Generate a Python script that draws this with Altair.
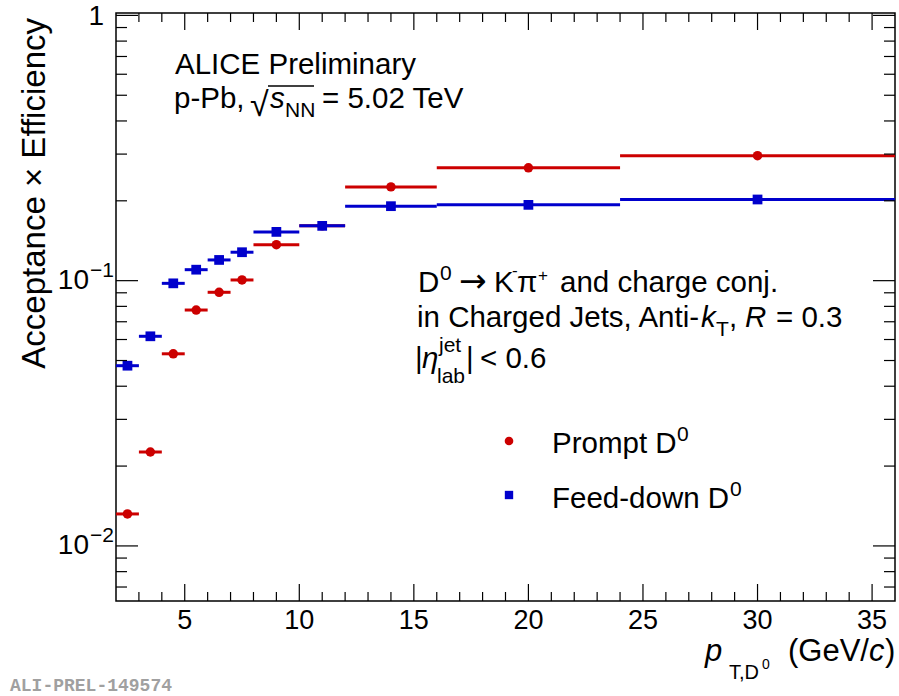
import altair as alt
import pandas as pd

# ---------------- data ----------------
bin_lo = [2, 3, 4, 5, 6, 7, 8, 10, 12, 16, 24]
bin_hi = [3, 4, 5, 6, 7, 8, 10, 12, 16, 24, 36]
pt_center = [2.5, 3.5, 4.5, 5.5, 6.5, 7.5, 9, 11, 14, 20, 30]
prompt_eff = [0.0132, 0.0226, 0.0530, 0.0775, 0.0904, 0.1006, 0.1367, 0.1610, 0.2257, 0.2663, 0.2960]
feeddown_eff = [0.0478, 0.0617, 0.0977, 0.1100, 0.1197, 0.1280, 0.1527, 0.1609, 0.1909, 0.1931, 0.2023]

x_major_ticks = [5, 10, 15, 20, 25, 30, 35]
x_tick_labels = ["5", "10", "15", "20", "25", "30", "35"]
x_minor_ticks = [3, 4, 6, 7, 8, 9, 11, 12, 13, 14, 16, 17, 18, 19, 21, 22, 23, 24,
                 26, 27, 28, 29, 31, 32, 33, 34]
y_major_ticks = [0.01, 0.1, 1]
y_minor_ticks = [0.007, 0.008, 0.009,
                 0.02, 0.03, 0.04, 0.05, 0.06, 0.07, 0.08, 0.09,
                 0.2, 0.3, 0.4, 0.5, 0.6, 0.7, 0.8, 0.9]
y_dec_vals = [0.01, 0.1]
y_dec_base = ["10", "10"]
y_dec_exp = ["\u22122", "\u22121"]
y_unit_val = [1]
y_unit_label = ["1"]

# ---------------- layout ----------------
W, H = 779, 588
OX, OY = 116, 13
FONT = "Liberation Sans"
RED = "#cc0000"
BLUE = "#0000cc"
TXT = 29.5
SUB = 21

xs = alt.Scale(domain=[2, 36], nice=False, zero=False)
ys = alt.Scale(type="log", domain=[0.0062, 1.021], nice=False)

prompt_df = pd.DataFrame({"lo": bin_lo, "hi": bin_hi, "x": pt_center, "y": prompt_eff})
feed_df = pd.DataFrame({"lo": bin_lo, "hi": bin_hi, "x": pt_center, "y": feeddown_eff})
ONE = pd.DataFrame({"d": [0]})


def err(df, color):
    return alt.Chart(df).mark_rule(color=color, strokeWidth=3).encode(
        x=alt.X("lo:Q", scale=xs, axis=None),
        x2="hi:Q",
        y=alt.Y("y:Q", scale=ys, axis=None),
    )


def pts(df, color, shape, size):
    return alt.Chart(df).mark_point(shape=shape, filled=True, size=size, color=color,
                                    opacity=1).encode(
        x=alt.X("x:Q", scale=xs, axis=None),
        y=alt.Y("y:Q", scale=ys, axis=None),
    )


def tick_x(vals, length, side):
    df = pd.DataFrame({"v": vals})
    y0, y1 = (H, H - length) if side == "bottom" else (0, length)
    return alt.Chart(df).mark_rule(color="black", strokeWidth=1.2).encode(
        x=alt.X("v:Q", scale=xs, axis=None), y=alt.value(y0), y2=alt.value(y1))


def tick_y(vals, length, side):
    df = pd.DataFrame({"v": vals})
    x0, x1 = (0, length) if side == "left" else (W, W - length)
    return alt.Chart(df).mark_rule(color="black", strokeWidth=1.2).encode(
        y=alt.Y("v:Q", scale=ys, axis=None), x=alt.value(x0), x2=alt.value(x1))


def txt(text, x, y, size=TXT, style="normal", align="left", baseline="alphabetic",
        color="black", font=FONT, angle=0, weight="normal"):
    return alt.Chart(ONE).mark_text(
        text=text, fontSize=size, fontStyle=style, align=align, baseline=baseline,
        color=color, font=font, angle=angle, fontWeight=weight,
    ).encode(x=alt.value(x - OX), y=alt.value(y - OY))


def hline(x1, x2, y, width=1.5):
    return alt.Chart(ONE).mark_rule(color="black", strokeWidth=width).encode(
        x=alt.value(x1 - OX), x2=alt.value(x2 - OX), y=alt.value(y - OY))


layers = [
    err(prompt_df, RED),
    pts(prompt_df, RED, "circle", 90),
    err(feed_df, BLUE),
    pts(feed_df, BLUE, "square", 95),
    tick_x(x_major_ticks, 17, "bottom"),
    tick_x(x_minor_ticks, 9, "bottom"),
    tick_x(x_major_ticks, 17, "top"),
    tick_x(x_minor_ticks, 9, "top"),
    tick_y(y_major_ticks, 22, "left"),
    tick_y(y_minor_ticks, 11, "left"),
    tick_y(y_major_ticks, 22, "right"),
    tick_y(y_minor_ticks, 11, "right"),
]

# x-axis tick labels through the x scale
xlab = pd.DataFrame({"v": x_major_ticks, "t": x_tick_labels})
layers.append(alt.Chart(xlab).mark_text(fontSize=27, font=FONT, align="center",
                                        baseline="top", color="black").encode(
    x=alt.X("v:Q", scale=xs, axis=None), y=alt.value(H + 7), text="t:N"))

# y-axis labels (10^n) drawn through the y scale
ydec = pd.DataFrame({"v": y_dec_vals, "e": y_dec_exp, "b": y_dec_base})
layers.append(alt.Chart(ydec).mark_text(fontSize=28, font=FONT, align="right",
                                        baseline="middle", color="black").encode(
    y=alt.Y("v:Q", scale=ys, axis=None), x=alt.value(89 - OX), text="b:N"))
layers.append(alt.Chart(ydec).mark_text(fontSize=21, font=FONT, align="left",
                                        baseline="alphabetic", dy=-4, color="black").encode(
    y=alt.Y("v:Q", scale=ys, axis=None), x=alt.value(90 - OX), text="e:N"))
yone = pd.DataFrame({"v": y_unit_val, "b": y_unit_label})
layers.append(alt.Chart(yone).mark_text(fontSize=28, font=FONT, align="right",
                                        baseline="middle", dy=2, color="black").encode(
    y=alt.Y("v:Q", scale=ys, axis=None), x=alt.value(104 - OX), text="b:N"))

# axis titles
layers += [
    txt("Acceptance \u00d7 Efficiency", 45, 18, size=33, align="right", angle=270),
    txt("p", 705, 661, size=31, style="italic"),
    txt("T,D", 729, 679, size=20),
    txt("0", 762, 669, size=14),
    txt("(GeV/", 788, 661, size=31),
    txt("c", 869, 661, size=31, style="italic"),
    txt(")", 885, 661, size=31),
]

# ALICE label
layers += [
    txt("ALICE Preliminary", 175, 74),
    txt("p-Pb, ", 174, 108),
    txt("\u221a", 250, 116, size=34),
    hline(268, 314, 86),
    txt("s", 270, 108, style="italic"),
    txt("NN", 285, 117, size=SUB),
    txt("= 5.02 TeV", 322, 108),
]

# decay channel block
layers += [
    txt("D", 418, 292),
    txt("0", 440, 280, size=SUB),
    txt("\u2192", 459, 292, size=33, font="DejaVu Sans"),
    txt("K", 494, 292),
    txt("-", 512, 276, size=17),
    txt("\u03c0", 517, 292),
    txt("+", 538, 281, size=17),
    txt("and charge conj.", 560, 292),
    txt("in Charged Jets, Anti-", 417, 327),
    txt("k", 701, 327, style="italic"),
    txt("T", 716, 336, size=SUB),
    txt(",", 729, 327),
    txt("R", 745, 327, style="italic"),
    txt("= 0.3", 776, 327),
    txt("|", 415, 368),
    txt("\u03b7", 422, 368, style="italic"),
    txt("jet", 439, 352, size=SUB),
    txt("lab", 437, 383, size=SUB),
    txt("|", 466, 368),
    txt("< 0.6", 480, 368),
]

# legend
layers += [
    alt.Chart(ONE).mark_point(shape="circle", filled=True, size=75, color=RED, opacity=1)
    .encode(x=alt.value(509 - OX), y=alt.value(441 - OY)),
    alt.Chart(ONE).mark_point(shape="square", filled=True, size=70, color=BLUE, opacity=1)
    .encode(x=alt.value(509 - OX), y=alt.value(495 - OY)),
    txt("Prompt D", 552, 453),
    txt("0", 677, 441, size=SUB),
    txt("Feed-down D", 552, 508),
    txt("0", 730, 496, size=SUB),
]

# preliminary tag
layers.append(txt("ALI-PREL-149574", 10, 691, size=18, color="#a0a0a0",
                  font="Liberation Mono", weight="bold"))

chart = alt.layer(*layers).properties(
    width=W, height=H,
    autosize=alt.AutoSizeParams(type="none"),
    padding={"left": OX, "top": OY, "right": 899 - OX - W, "bottom": 696 - OY - H},
    background="white",
).configure_view(stroke="black", strokeWidth=1.5)

chart.save("out.html", embed_options={"renderer": "svg", "actions": False})
